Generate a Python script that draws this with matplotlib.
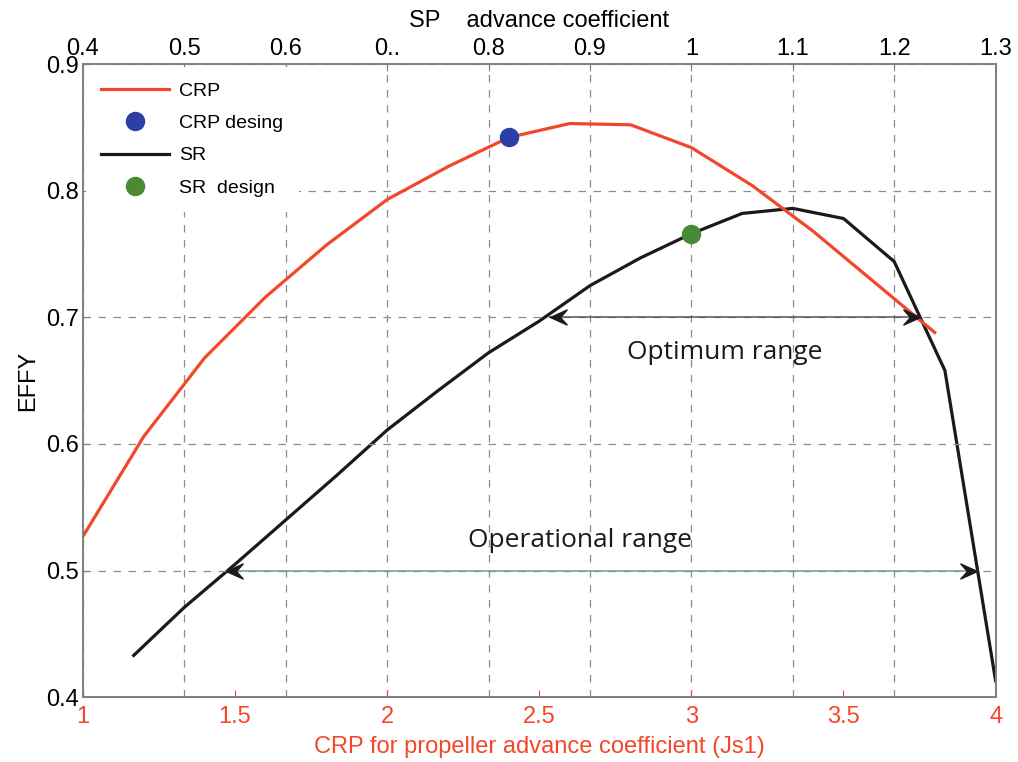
import numpy as np
import matplotlib
matplotlib.use("Agg")
import matplotlib.pyplot as plt
from matplotlib.path import Path

plt.rcParams['font.family'] = ['Liberation Sans', 'DejaVu Sans']

# CRP curve (bottom axis, Js1)
crp_j = [1.0, 1.2, 1.4, 1.6, 1.8, 2.0, 2.2, 2.4, 2.6, 2.8, 3.0, 3.2, 3.4, 3.6, 3.8]
crp_eff = [0.527, 0.606, 0.668, 0.716, 0.757, 0.793, 0.819, 0.842, 0.853, 0.852,
           0.834, 0.804, 0.768, 0.728, 0.688]

# SR curve (top axis, SP advance coefficient)
sr_j = [0.45, 0.50, 0.55, 0.60, 0.65, 0.70, 0.75, 0.80, 0.85, 0.90,
        0.95, 1.00, 1.05, 1.10, 1.15, 1.20, 1.25, 1.30]
sr_eff = [0.433, 0.471, 0.505, 0.540, 0.575, 0.611, 0.642, 0.672, 0.697, 0.725,
          0.747, 0.766, 0.782, 0.786, 0.778, 0.744, 0.658, 0.413]

crp_design = (2.4, 0.842)   # bottom axis
sr_design = (1.0, 0.766)    # top axis

# range arrows (bottom axis units): start, end, level
opt_range = (2.535, 3.75, 0.70)
oper_range = (1.47, 3.94, 0.50)

bottom_ticks = [1, 1.5, 2, 2.5, 3, 3.5, 4]
bottom_labels = ['1', '1.5', '2', '2.5', '3', '3.5', '4']
top_ticks = [0.4, 0.5, 0.6, 0.7, 0.8, 0.9, 1.0, 1.1, 1.2, 1.3]
top_labels = ['0.4', '0.5', '0.6', '0..', '0.8', '0.9', '1', '1.1', '1.2', '1.3']
y_ticks = [0.4, 0.5, 0.6, 0.7, 0.8, 0.9]

red = '#f2472a'
spine_col = '#808080'
grid_col = '#8c8c8c'

fig = plt.figure(figsize=(10.18, 7.62), dpi=100)
ax = fig.add_axes([0.0815, 0.085, 0.8965, 0.831])
ax2 = ax.twiny()

# main axes drawn above the top axis (which carries the vertical grid)
ax.set_zorder(2)
ax.patch.set_visible(False)
ax2.set_zorder(1)
ax2.patch.set_visible(True)
ax2.patch.set_facecolor('white')

ax.set_xlim(1, 4)
ax.set_ylim(0.4, 0.9)
ax2.set_xlim(0.4, 1.3)

ax.set_xticks(bottom_ticks)
ax.set_xticklabels(bottom_labels)
ax.set_yticks(y_ticks)
ax.set_yticklabels([f'{v:g}' for v in y_ticks])
ax2.set_xticks(top_ticks)
ax2.set_xticklabels(top_labels)

ax.tick_params(axis='x', direction='in', length=5, colors=red, labelsize=17, pad=6)
ax.tick_params(axis='y', direction='in', length=5, color=spine_col, labelsize=17, pad=3)
ax2.tick_params(axis='x', direction='in', length=5, color=spine_col, labelsize=17, pad=3)

for a in (ax, ax2):
    for s in a.spines.values():
        s.set_color(spine_col)
        s.set_linewidth(1.3)

dash = (0, (6, 6))
ax.yaxis.grid(True, color=grid_col, linestyle=dash, linewidth=0.9)
ax2.xaxis.grid(True, color=grid_col, linestyle=dash, linewidth=0.9)

# range arrows
head_l = Path([(0, 0), (1, 0.45), (0.6, 0), (1, -0.45), (0, 0)],
              [Path.MOVETO, Path.LINETO, Path.LINETO, Path.LINETO, Path.CLOSEPOLY])
head_r = Path([(0, 0), (-1, 0.45), (-0.6, 0), (-1, -0.45), (0, 0)],
              [Path.MOVETO, Path.LINETO, Path.LINETO, Path.LINETO, Path.CLOSEPOLY])
for (x0, x1, yv), lc in [(opt_range, '#555555'), (oper_range, '#6e9c9c')]:
    ax.plot([x0, x1], [yv, yv], color=lc, linewidth=1.1, zorder=1.8)
    ax.plot([x0], [yv], marker=head_l, markersize=24, color='#1a1a1a', linestyle='none', zorder=3)
    ax.plot([x1], [yv], marker=head_r, markersize=24, color='#1a1a1a', linestyle='none', zorder=3)

ax.text(3.11, 0.672, 'Optimum range', ha='center', va='center', fontsize=19,
        family=['Open Sans', 'DejaVu Sans'], color='#1a1a1a')
ax.text(2.633, 0.524, 'Operational range', ha='center', va='center', fontsize=19,
        family=['Open Sans', 'DejaVu Sans'], color='#1a1a1a')

# curves
l_sr, = ax2.plot(sr_j, sr_eff, color='#1a1a1a', linewidth=2.3, label='SR')
l_srd, = ax2.plot([sr_design[0]], [sr_design[1]], 'o', color='#4b8a35', markersize=13,
                  label='SR  design', zorder=4)
l_crp, = ax.plot(crp_j, crp_eff, color=red, linewidth=2.3, label='CRP', zorder=2.2)
l_crpd, = ax.plot([crp_design[0]], [crp_design[1]], 'o', color='#2b3fa6', markersize=13,
                  label='CRP desing', zorder=4)

leg = ax.legend(handles=[l_crp, l_crpd, l_sr, l_srd], loc='upper left', fontsize=14,
                frameon=True, facecolor='white', edgecolor='none', framealpha=1,
                handlelength=3.5, handletextpad=0.5, labelspacing=0.75,
                borderpad=0.8, borderaxespad=0.15, fancybox=False)
leg.set_zorder(2.1)

ax.set_ylabel('EFFY', fontsize=17, labelpad=5)
ax.set_xlabel('CRP for propeller advance coefficient (Js1)', fontsize=17, color=red, labelpad=6)
ax2.set_xlabel('SP    advance coefficient', fontsize=17, labelpad=8)

fig.savefig('out.png', dpi=100)
